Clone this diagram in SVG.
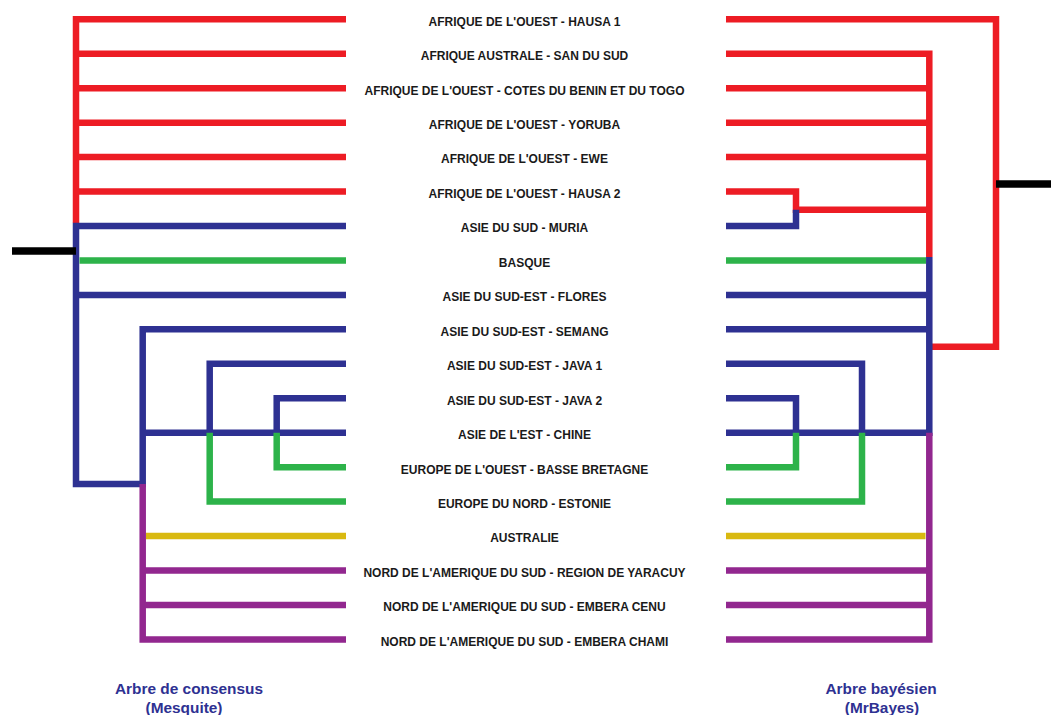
<svg xmlns="http://www.w3.org/2000/svg" width="1051" height="715" viewBox="0 0 1051 715">
<style>
.b{fill:none;stroke-width:6.5;stroke-linejoin:miter;stroke-linecap:butt}
.r{stroke:#ed1c24}.u{stroke:#2e3192}.g{stroke:#2db34a}.p{stroke:#92278f}.y{stroke:#d9b910}.k{stroke:#000;stroke-width:7.5}
.lab{font-family:"Liberation Sans",Arial,sans-serif;font-weight:bold;font-size:12px;fill:#1a1a1a;text-anchor:middle}
.cap{font-family:"Liberation Sans",Arial,sans-serif;font-weight:bold;font-size:15.4px;fill:#2e3192;text-anchor:middle}
</style>
<rect width="1051" height="715" fill="#fff"/>
<g id="connectors">
<!-- left tree -->
<path class="b r" d="M346,19.3H76V223M76,53.75H346M76,88.2H346M76,122.65H346M76,157.1H346M76,191.55H346"/>
<path class="b u" d="M346,226H76V484H142.7V329.35H346M76,294.9H346M142.7,432.7H346M346,363.8H209.7V432.7M346,398.25H276.7V432.7"/>
<path class="b g" d="M79.5,260.45H346M209.7,432.7V501.6H346M276.7,432.7V467.15H346"/>
<path class="b p" d="M142.7,484V639.4H346M142.7,570.5H346M142.7,604.95H346"/>
<path class="b y" d="M146,536.05H346"/>
<path class="b k" d="M12,251H76"/>
<!-- right tree -->
<path class="b r" d="M726,19.3H996V346.7H929.3M726,53.75H929.3V257M726,88.2H929.3M726,122.65H929.3M726,157.1H929.3M726,191.55H796V209.7H929.3"/>
<path class="b u" d="M796,209.7V226H726M929.3,257V432.7H726M726,294.9H929.3M726,329.35H929.3M726,363.8H862V432.7M726,398.25H796V432.7"/>
<path class="b g" d="M726,260.45H926M796,432.7V467.15H726M862,432.7V501.6H726"/>
<path class="b p" d="M929.3,432.7V639.4H726M726,570.5H929.3M726,604.95H929.3"/>
<path class="b y" d="M726,536.05H925.5"/>
<path class="b k" d="M996,184H1051"/>
</g>
<g id="n1"><text class="lab" x="524.5" y="25.6">AFRIQUE DE L'OUEST - HAUSA 1</text></g>
<g id="n2"><text class="lab" x="524.5" y="60.1">AFRIQUE AUSTRALE - SAN DU SUD</text></g>
<g id="n3"><text class="lab" x="524.5" y="94.5">AFRIQUE DE L'OUEST - COTES DU BENIN ET DU TOGO</text></g>
<g id="n4"><text class="lab" x="524.5" y="129">AFRIQUE DE L'OUEST - YORUBA</text></g>
<g id="n5"><text class="lab" x="524.5" y="163.4">AFRIQUE DE L'OUEST - EWE</text></g>
<g id="n6"><text class="lab" x="524.5" y="197.9">AFRIQUE DE L'OUEST - HAUSA 2</text></g>
<g id="n7"><text class="lab" x="524.5" y="232.3">ASIE DU SUD - MURIA</text></g>
<g id="n8"><text class="lab" x="524.5" y="266.8">BASQUE</text></g>
<g id="n9"><text class="lab" x="524.5" y="301.2">ASIE DU SUD-EST - FLORES</text></g>
<g id="n10"><text class="lab" x="524.5" y="335.7">ASIE DU SUD-EST - SEMANG</text></g>
<g id="n11"><text class="lab" x="524.5" y="370.1">ASIE DU SUD-EST - JAVA 1</text></g>
<g id="n12"><text class="lab" x="524.5" y="404.6">ASIE DU SUD-EST - JAVA 2</text></g>
<g id="n13"><text class="lab" x="524.5" y="439">ASIE DE L'EST - CHINE</text></g>
<g id="n14"><text class="lab" x="524.5" y="473.5">EUROPE DE L'OUEST - BASSE BRETAGNE</text></g>
<g id="n15"><text class="lab" x="524.5" y="507.9">EUROPE DU NORD - ESTONIE</text></g>
<g id="n16"><text class="lab" x="524.5" y="542.4">AUSTRALIE</text></g>
<g id="n17"><text class="lab" x="524.5" y="576.8">NORD DE L'AMERIQUE DU SUD - REGION DE YARACUY</text></g>
<g id="n18"><text class="lab" x="524.5" y="611.3">NORD DE L'AMERIQUE DU SUD - EMBERA CENU</text></g>
<g id="n19"><text class="lab" x="524.5" y="645.7">NORD DE L'AMERIQUE DU SUD - EMBERA CHAMI</text></g>
<g id="cap-left"><text class="cap" x="189" y="693.5">Arbre de consensus</text><text class="cap" x="184" y="712.5">(Mesquite)</text></g>
<g id="cap-right"><text class="cap" x="881" y="693.5">Arbre bayésien</text><text class="cap" x="882" y="712.5">(MrBayes)</text></g>
</svg>
